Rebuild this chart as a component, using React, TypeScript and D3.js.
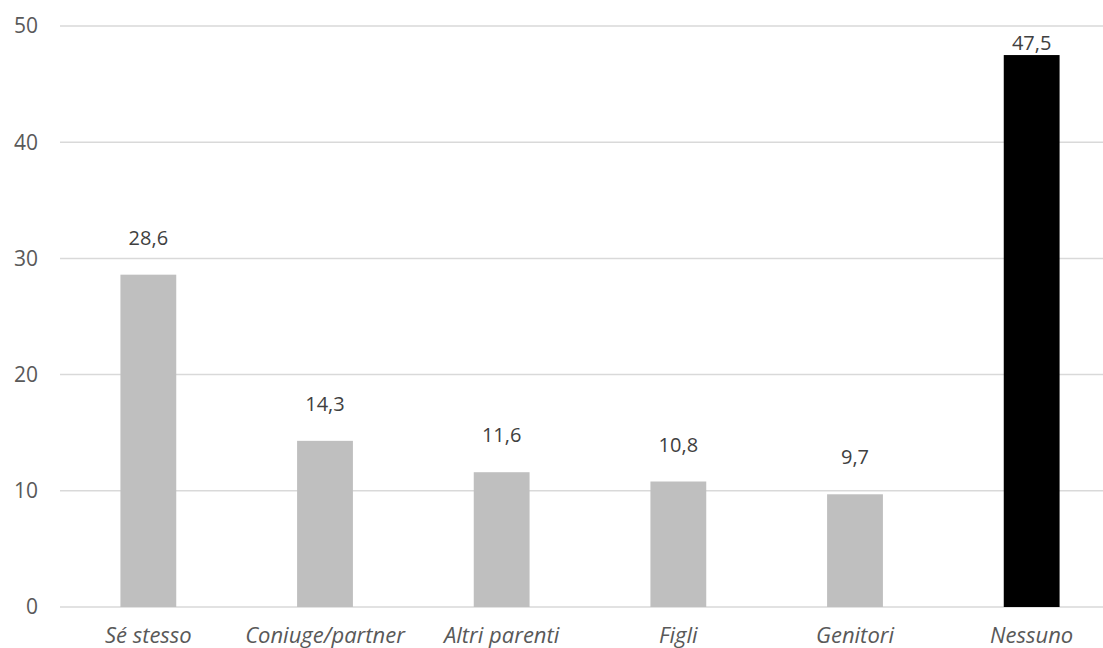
import React from "react";
import * as d3 from "d3";

const categories = ["Sé stesso", "Coniuge/partner", "Altri parenti", "Figli", "Genitori", "Nessuno"];
const values = [28.6, 14.3, 11.6, 10.8, 9.7, 47.5];
const barColors = ["#bfbfbf", "#bfbfbf", "#bfbfbf", "#bfbfbf", "#bfbfbf", "#000000"];
const yTicks = [0, 10, 20, 30, 40, 50];

const W = 1103;
const H = 648;
const FONT = "'Open Sans', sans-serif";

export default function App() {
  const x = d3
    .scaleBand<string>()
    .domain(categories)
    .range([60, 1120])
    .paddingInner(0.684)
    .paddingOuter(0.342);
  const y = d3.scaleLinear().domain([0, 50]).range([607, 26]);
  const fmt = (v: number) => v.toFixed(1).replace(".", ",");

  return (
    <svg
      width={W}
      height={H}
      style={{ position: "absolute", left: 0, top: 0, background: "#fff" }}
    >
      {yTicks.map((t) => (
        <g key={t}>
          <line x1={60} x2={1120} y1={y(t)} y2={y(t)} stroke="#d9d9d9" strokeWidth={1.5} />
          <text
            x={38}
            y={y(t)}
            dy="0.35em"
            textAnchor="end"
            fontFamily={FONT}
            fontSize={21}
            fill="#595959"
          >
            {t}
          </text>
        </g>
      ))}
      {categories.map((c, i) => {
        const bx = x(c)!;
        const bw = x.bandwidth();
        // labels sit above the bar, but stay inside the plot area at the top
        const ly = Math.max(y(values[i]) - 30, 50);
        return (
          <g key={c}>
            <rect x={bx} y={y(values[i])} width={bw} height={y(0) - y(values[i])} fill={barColors[i]} />
            <text
              x={bx + bw / 2}
              y={ly}
              textAnchor="middle"
              fontFamily={FONT}
              fontSize={20}
              fill="#404040"
            >
              {fmt(values[i])}
            </text>
            <text
              x={bx + bw / 2}
              y={643}
              textAnchor="middle"
              fontFamily={FONT}
              fontSize={22}
              fontStyle="italic"
              fill="#595959"
            >
              {c}
            </text>
          </g>
        );
      })}
    </svg>
  );
}
